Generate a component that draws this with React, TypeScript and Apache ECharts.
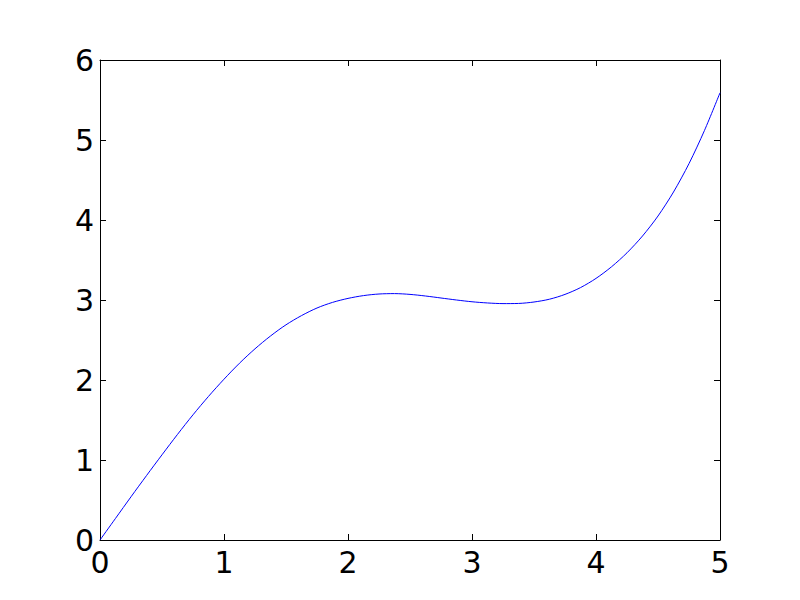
import React, { useEffect, useRef } from 'react';
import * as echarts from 'echarts';

// curve values
const xValues = [
  0, 0.125, 0.25, 0.375, 0.5, 0.625, 0.75, 0.875, 1.0, 1.125, 1.25, 1.375, 1.5, 1.625, 1.75, 1.875,
  2.0, 2.125, 2.25, 2.375, 2.5, 2.625, 2.75, 2.875, 3.0, 3.125, 3.25, 3.375, 3.5, 3.625, 3.75, 3.875,
  4.0, 4.125, 4.25, 4.375, 4.5, 4.625, 4.75, 4.875, 5.0,
];
const yValues = [
  0, 0.27, 0.54, 0.805, 1.065, 1.32, 1.565, 1.795, 2.01, 2.21, 2.39, 2.55, 2.69, 2.805, 2.9, 2.97,
  3.02, 3.055, 3.075, 3.08, 3.07, 3.05, 3.025, 3.0, 2.978, 2.963, 2.955, 2.957, 2.975, 3.01, 3.07, 3.155,
  3.27, 3.415, 3.59, 3.8, 4.05, 4.35, 4.705, 5.12, 5.59,
];

const xTicks = { min: 0, max: 5, interval: 1 };
const yTicks = { min: 0, max: 6, interval: 1 };

const App: React.FC = () => {
  const chartRef = useRef<HTMLDivElement>(null);

  useEffect(() => {
    if (!chartRef.current) return;
    const chart = echarts.init(chartRef.current, undefined, { renderer: 'svg' });

    const line = { show: true, onZero: false, lineStyle: { color: '#000', width: 1 } };
    const tick = { show: true, inside: true, length: 6, lineStyle: { color: '#000', width: 1 } };
    const label = { fontFamily: 'DejaVu Sans', fontSize: 30, color: '#000' };

    chart.setOption({
      animation: false,
      backgroundColor: '#fff',
      grid: { left: 100, right: 80, top: 60, bottom: 60, containLabel: false },
      xAxis: [
        {
          type: 'value',
          ...xTicks,
          position: 'bottom',
          axisLine: line,
          axisTick: tick,
          splitLine: { show: false },
          axisLabel: { ...label, margin: 7 },
        },
        {
          type: 'value',
          ...xTicks,
          position: 'top',
          axisLine: line,
          axisTick: tick,
          splitLine: { show: false },
          axisLabel: { show: false },
        },
      ],
      yAxis: [
        {
          type: 'value',
          ...yTicks,
          position: 'left',
          axisLine: line,
          axisTick: tick,
          splitLine: { show: false },
          axisLabel: { ...label, margin: 6 },
        },
        {
          type: 'value',
          ...yTicks,
          position: 'right',
          axisLine: line,
          axisTick: tick,
          splitLine: { show: false },
          axisLabel: { show: false },
        },
      ],
      series: [
        {
          type: 'line',
          data: xValues.map((x, i) => [x, yValues[i]]),
          smooth: 0.3,
          showSymbol: false,
          lineStyle: { color: '#0000ff', width: 1 },
        },
      ],
    });

    return () => {
      chart.dispose();
    };
  }, []);

  return <div ref={chartRef} style={{ position: 'absolute', left: 0, top: 0, width: 800, height: 600 }} />;
};

export default App;
